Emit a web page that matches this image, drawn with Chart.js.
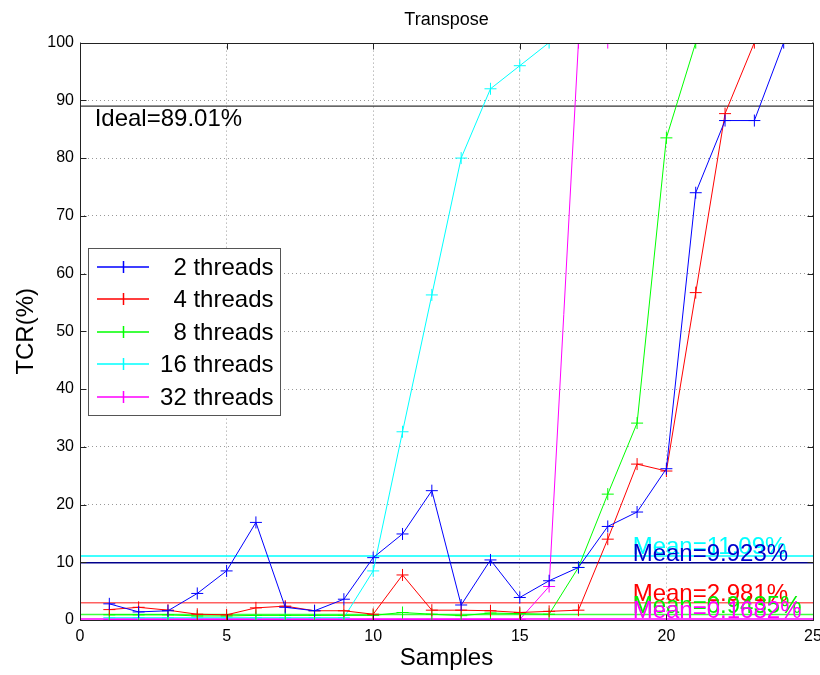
<!DOCTYPE html>
<html>
<head>
  <meta charset="utf-8">
  <title>Transpose</title>
  <script src="https://cdn.jsdelivr.net/npm/chart.js@4.4.1/dist/chart.umd.min.js"></script>
  <style>
    body {
      margin: 0;
      background: #fff;
    }
    #chart {
      display: block;
    }
  </style>
</head>
<body>
  <canvas id="chart" width="820" height="675"></canvas>

<script>
// TCR(%) per sample, one array per thread count
const threads2 = [2.8, 1.4, 1.6, 4.6, 8.5, 16.9, 2.2, 1.6, 3.6, 10.8, 14.9, 22.4, 2.6, 10.4, 3.9, 6.8, 9.1, 16.2, 18.7, 26.2, 74, 86.5, 86.5, 100];
const threads4 = [1.8, 2.2, 1.7, 1.0, 0.9, 2.1, 2.4, 1.6, 1.6, 1.0, 7.8, 1.7, 1.7, 1.6, 1.3, 1.5, 1.7, 14, 27, 25.8, 56.7, 87.7, 100];
const threads8 = [0.9, 0.9, 0.9, 0.7, 0.7, 0.8, 0.8, 0.8, 0.8, 0.8, 1.3, 1.0, 0.75, 1.2, 1.1, 1.0, 9.1, 21.8, 34.1, 83.5, 100];
const threads16 = [0.4, 0.4, 0.4, 0.4, 0.4, 0.4, 0.4, 0.4, 0.4, 8.5, 32.6, 56.3, 80, 92, 96, 100];
const threads32 = [0.1, 0.1, 0.1, 0.1, 0.1, 0.1, 0.1, 0.1, 0.1, 0.1, 0.1, 0.1, 0.1, 0.1, 0.1, 5.8, 100, 100];

const seriesData = [threads2, threads4, threads8, threads16, threads32];
const seriesLabels = ['2 threads', '4 threads', '8 threads', '16 threads', '32 threads'];
const seriesColors = ['#0000ff', '#ff0000', '#00ff00', '#00ffff', '#ff00ff'];

// mean lines (drawn in this order) and their labels
const meanValues = [11.09, 9.923, 2.981, 0.9435, 0.1682];
const meanLabels = ['Mean=11.09%', 'Mean=9.923%', 'Mean=2.981%', 'Mean=0.9435%', 'Mean=0.1682%'];
const meanColors = ['#00ffff', '#00008b', '#ff6060', '#40ff40', '#ff00ff'];
const meanTextColors = ['#00ffff', '#0000cc', '#ff0000', '#00ee00', '#ff00ff'];

const idealValue = 89.01;
const idealLabel = 'Ideal=89.01%';

const xMin = 0, xMax = 25, xStep = 5;
const yMin = 0, yMax = 100, yStep = 10;

const FONT = "'Liberation Sans', Arial, Helvetica, sans-serif";
Chart.defaults.font.family = FONT;
Chart.defaults.color = '#000';

const datasets = [];

seriesData.forEach((vals, i) => {
  datasets.push({
    label: seriesLabels[i],
    data: vals.map((v, k) => ({ x: k + 1, y: v })),
    borderColor: seriesColors[i],
    backgroundColor: seriesColors[i],
    borderWidth: 1,
    pointStyle: 'cross',
    pointRadius: 6,
    pointBorderWidth: 1,
    pointBorderColor: seriesColors[i],
    tension: 0,
    fill: false
  });
});

meanValues.forEach((m, i) => {
  datasets.push({
    label: meanLabels[i],
    data: [{ x: xMin, y: m }, { x: xMax, y: m }],
    borderColor: meanColors[i],
    borderWidth: 1.5,
    pointRadius: 0,
    fill: false
  });
});

datasets.push({
  label: idealLabel,
  data: [{ x: xMin, y: idealValue }, { x: xMax, y: idealValue }],
  borderColor: '#333',
  borderWidth: 1.2,
  pointRadius: 0,
  fill: false
});

// box, inward ticks, text labels and legend like the matlab figure
const extras = {
  id: 'extras',
  afterDatasetsDraw(chart) {
    const ctx = chart.ctx;
    const a = chart.chartArea;
    const xs = chart.scales.x, ys = chart.scales.y;
    ctx.save();

    // white strip over the top edge so lines at 100 hide behind the box
    ctx.fillStyle = '#fff';
    ctx.fillRect(a.left + 1, a.top - 1, a.right - a.left - 2, 1.5);

    // axes box
    ctx.strokeStyle = '#222';
    ctx.lineWidth = 1;
    const L = Math.round(a.left) + 0.5, R = Math.round(a.right) + 0.5;
    const T = Math.round(a.top) + 0.5, B = Math.round(a.bottom) + 0.5;
    ctx.strokeRect(L, T, R - L, B - T);
    ctx.beginPath();
    for (let v = xMin; v <= xMax; v += xStep) {
      const px = Math.round(xs.getPixelForValue(v)) + 0.5;
      ctx.moveTo(px, B); ctx.lineTo(px, B - 6);
      ctx.moveTo(px, T); ctx.lineTo(px, T + 6);
    }
    for (let v = yMin; v <= yMax; v += yStep) {
      const py = Math.round(ys.getPixelForValue(v)) + 0.5;
      ctx.moveTo(L, py); ctx.lineTo(L + 6, py);
      ctx.moveTo(R, py); ctx.lineTo(R - 6, py);
    }
    ctx.stroke();

    // ideal text
    ctx.font = '24px ' + FONT;
    ctx.textAlign = 'left';
    ctx.textBaseline = 'alphabetic';
    ctx.fillStyle = '#000';
    ctx.fillText(idealLabel, xs.getPixelForValue(0.5), ys.getPixelForValue(idealValue) + 20);

    // mean texts
    meanValues.forEach((m, i) => {
      ctx.fillStyle = meanTextColors[i];
      ctx.fillText(meanLabels[i], xs.getPixelForValue(18.85), ys.getPixelForValue(m) - 1.5);
    });

    // legend
    const bx = 88.5, by = 248.5, bw = 192, bh = 167;
    ctx.fillStyle = '#fff';
    ctx.fillRect(bx, by, bw, bh);
    ctx.strokeStyle = '#555';
    ctx.lineWidth = 1;
    ctx.strokeRect(bx, by, bw, bh);
    const rowY = [267, 299, 332, 364, 397];
    seriesLabels.forEach((lab, i) => {
      const y = rowY[i];
      ctx.strokeStyle = seriesColors[i];
      ctx.lineWidth = 1.5;
      ctx.beginPath();
      ctx.moveTo(97, y); ctx.lineTo(149, y);
      ctx.moveTo(123.5, y - 6); ctx.lineTo(123.5, y + 6);
      ctx.stroke();
      ctx.fillStyle = '#000';
      ctx.textAlign = 'right';
      ctx.textBaseline = 'middle';
      ctx.fillText(lab, 273.5, y + 1);
    });

    ctx.restore();
  }
};

const ctx = document.getElementById('chart').getContext('2d');
new Chart(ctx, {
  type: 'line',
  data: { datasets: datasets },
  plugins: [extras],
  options: {
    responsive: false,
    animation: false,
    devicePixelRatio: 1,
    layout: { padding: { left: 0, right: 7, top: 0, bottom: 0 } },
    plugins: {
      legend: { display: false },
      tooltip: { enabled: false },
      title: {
        display: true,
        fullSize: false,
        text: 'Transpose',
        color: '#000',
        font: { size: 18, weight: 'normal' },
        padding: { top: 9, bottom: 12 }
      }
    },
    scales: {
      x: {
        type: 'linear',
        min: xMin,
        max: xMax,
        ticks: { stepSize: xStep, color: '#000', font: { size: 16 }, padding: 7, maxRotation: 0 },
        grid: { color: '#999', drawTicks: false, lineWidth: 1 },
        border: { display: false, dash: [1, 3] },
        title: { display: true, text: 'Samples', color: '#000', font: { size: 24 }, padding: { top: 0, bottom: 2 } },
        afterFit(s) { s.height = 55; s.paddingLeft = 0; s.paddingRight = 0; }
      },
      y: {
        type: 'linear',
        min: yMin,
        max: yMax,
        ticks: { stepSize: yStep, color: '#000', font: { size: 16 }, padding: 6 },
        grid: { color: '#999', drawTicks: false, lineWidth: 1 },
        border: { display: false, dash: [1, 3] },
        title: { display: true, text: 'TCR(%)', color: '#000', font: { size: 24 }, padding: { top: 12, bottom: 0 } },
        afterFit(s) { s.width = 80; s.paddingTop = 0; s.paddingBottom = 0; }
      }
    }
  }
});
</script>
</body>
</html>
